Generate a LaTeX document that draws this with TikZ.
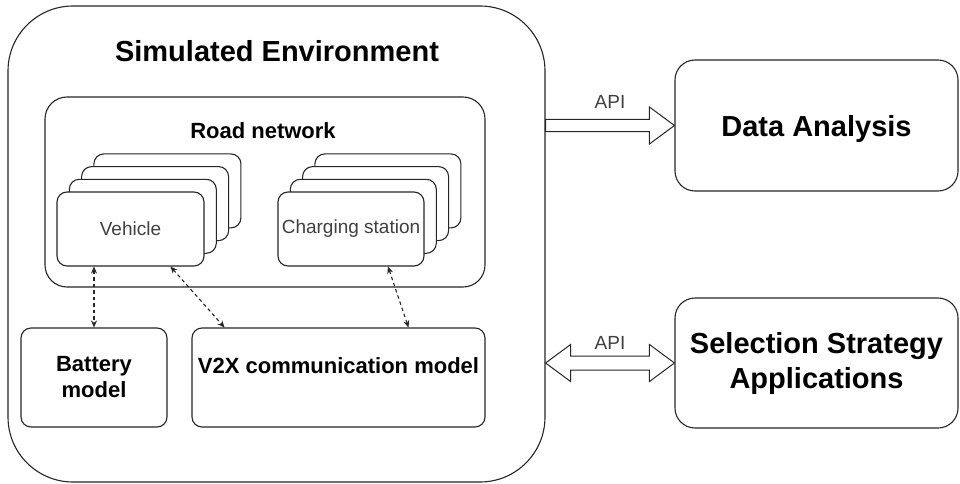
\documentclass[tikz,border=0pt]{standalone}
\usepackage{fontspec}
\setmainfont{Liberation Sans}
\usetikzlibrary{arrows.meta, positioning, calc}

\begin{document}
\begin{tikzpicture}[x=1pt, y=-1pt, >={Stealth[length=7pt, width=6pt]},
    line width=1.1pt,
    box/.style={draw=black!85, fill=white, rounded corners=#1, inner sep=2pt},
    box/.default=10pt,
    bigtext/.style={font=\fontsize{29}{35}\selectfont\bfseries},
    midtext/.style={font=\fontsize{22}{26}\selectfont\bfseries},
    smalltext/.style={font=\fontsize{19}{23}\selectfont, text=black!75},
    apitext/.style={font=\fontsize{19}{23}\selectfont, text=black!75, inner sep=0pt},
    link/.style={<->, dashed, dash pattern=on 3.5pt off 3pt, draw=black!85},
    fatarrow/.style={draw=black!85, line width=1pt, fill=white}]
  \useasboundingbox (0,0) rectangle (960,484);

  % Simulated environment
  \node[box=65pt, minimum width=537pt, minimum height=476pt] (env) at (276.5,244) {};
  \node[bigtext, anchor=base] (envtitle) at (277,62) {Simulated Environment};

  % Road network
  \node[box=22pt, minimum width=440pt, minimum height=190pt] (road) at (265,192) {};
  \node[midtext, anchor=base] (roadtitle) at (263,138) {Road network};

  % Vehicle stack, back copies first
  \coordinate (vehpos) at (130.5,229);
  \foreach \i in {3,2,1}
    \node[box, minimum width=147pt, minimum height=74pt]
      (veh\i) at ($(vehpos)+(\i*12.3,-\i*12.7)$) {};
  \node[box, smalltext, minimum width=147pt, minimum height=74pt] (vehicle) at (vehpos) {Vehicle};

  % Charging station stack
  \coordinate (chgpos) at (351,229);
  \foreach \i in {3,2,1}
    \node[box, minimum width=146pt, minimum height=74pt]
      (chg\i) at ($(chgpos)+(\i*12.3,-\i*12.7)$) {};
  \node[box, smalltext, minimum width=146pt, minimum height=74pt] (charging) at (chgpos) {Charging station};

  % Models
  \node[box, midtext, align=center, minimum width=146pt, minimum height=99pt]
    (battery) at (94,377.5) {Battery\\model};
  \node[box, midtext, minimum width=293pt, minimum height=99pt, text height=16pt, text depth=25pt]
    (v2x) at (338.5,377.5) {V2X communication model};

  \draw[link] (vehicle.south -| battery.north) -- (battery.north);
  \draw[link] ([xshift=40pt]vehicle.south) -- ([xshift=-114pt]v2x.north);
  \draw[link] ([xshift=37pt]charging.south) -- ([xshift=70pt]v2x.north);

  % Outside applications
  \node[box=20pt, bigtext, minimum width=283pt, minimum height=131pt, text depth=0pt]
    (data) at (816.5,125.5) {Data Analysis};
  \node[box=20pt, bigtext, align=center, minimum width=283pt, minimum height=130pt]
    (sel) at (816.5,363) {Selection Strategy\\Applications};

  % API links
  \draw[fatarrow] ($(env.east |- data.west)+(0,-6)$) -- ($(data.west)+(-25,-6)$)
    -- ($(data.west)+(-25,-18.5)$) -- (data.west) -- ($(data.west)+(-25,18.5)$)
    -- ($(data.west)+(-25,6)$) -- ($(env.east |- data.west)+(0,6)$) -- cycle;
  \node[apitext, above=10pt] (apitop) at ($(env.east |- data.west)!0.5!(data.west)+(0,-6)$) {API};

  \draw[fatarrow] (env.east |- sel.west) -- ($(env.east |- sel.west)+(25,-18.5)$)
    -- ($(env.east |- sel.west)+(25,-7)$) -- ($(sel.west)+(-25,-7)$)
    -- ($(sel.west)+(-25,-18.5)$) -- (sel.west) -- ($(sel.west)+(-25,18.5)$)
    -- ($(sel.west)+(-25,7)$) -- ($(env.east |- sel.west)+(25,7)$)
    -- ($(env.east |- sel.west)+(25,18.5)$) -- cycle;
  \node[apitext, above=6pt] (apibottom) at ($(env.east |- sel.west)!0.5!(sel.west)+(0,-7)$) {API};
\end{tikzpicture}
\end{document}
